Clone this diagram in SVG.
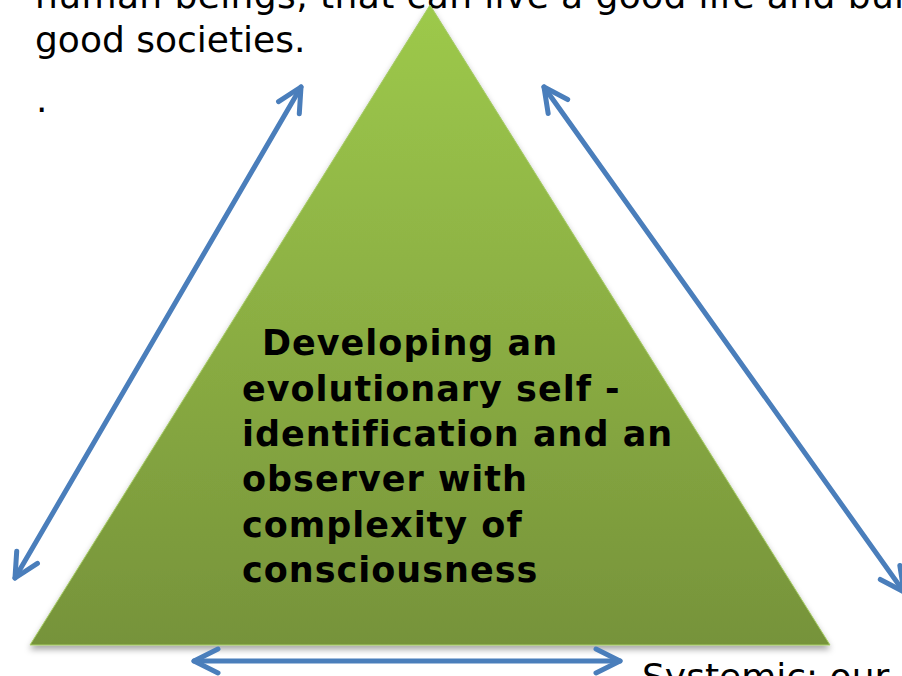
<svg xmlns="http://www.w3.org/2000/svg" width="902" height="676" viewBox="0 0 902 676">
  <defs>
    <linearGradient id="tri-grad" x1="0" y1="5" x2="0" y2="645" gradientUnits="userSpaceOnUse">
      <stop offset="0" stop-color="#9dc94b"/>
      <stop offset="0.5" stop-color="#8bae43"/>
      <stop offset="1" stop-color="#76933a"/>
    </linearGradient>
    <filter id="shadow" x="-10%" y="-10%" width="120%" height="125%">
      <feDropShadow dx="0" dy="4" stdDeviation="3" flood-color="#000" flood-opacity="0.35"/>
    </filter>
    <marker id="head" markerUnits="userSpaceOnUse" markerWidth="40" markerHeight="40" viewBox="-30 -20 40 40" refX="0" refY="0" orient="auto-start-reverse" overflow="visible">
      <path d="M -24 -12 L 0 0 L -24 12" fill="none" stroke="#4a7ebb" stroke-width="5" stroke-linecap="round" stroke-linejoin="round"/>
    </marker>
  </defs>
  <style>
    .top { font-family: "DejaVu Sans", Verdana, sans-serif; font-size: 36px; fill: #000; }
    .main { font-family: "DejaVu Sans", Verdana, sans-serif; font-size: 35px; font-weight: bold; fill: #000; letter-spacing: 1px; }
    .conn { fill: none; stroke: #4a7ebb; stroke-width: 5; stroke-linecap: round; marker-start: url(#head); marker-end: url(#head); }
  </style>
  <rect width="902" height="676" fill="#ffffff"/>

  <g id="top-text">
    <text class="top" x="35" y="8" letter-spacing="0.4">human beings, that can live a good life and build</text>
    <text class="top" x="35" y="52">good societies.</text>
    <text class="top" x="36" y="112">.</text>
  </g>

  <g id="triangle">
    <polygon points="430,5 830,645 30,645" fill="url(#tri-grad)" stroke="#a6cc66" stroke-width="1" filter="url(#shadow)"/>
    <text class="main">
      <tspan x="262" y="355">Developing an</tspan>
      <tspan x="242" y="400.5">evolutionary self -</tspan>
      <tspan x="242" y="446">identification and an</tspan>
      <tspan x="242" y="491">observer with</tspan>
      <tspan x="242" y="537">complexity of</tspan>
      <tspan x="242" y="582">consciousness</tspan>
    </text>
  </g>

  <g id="connectors">
    <line class="conn" x1="301" y1="87" x2="15" y2="578"/>
    <line class="conn" x1="544" y1="87" x2="904" y2="592"/>
    <line class="conn" x1="194" y1="661" x2="620" y2="661"/>
  </g>

  <g id="bottom-text">
    <text class="top" x="642" y="689">Systemic: our</text>
  </g>
</svg>
